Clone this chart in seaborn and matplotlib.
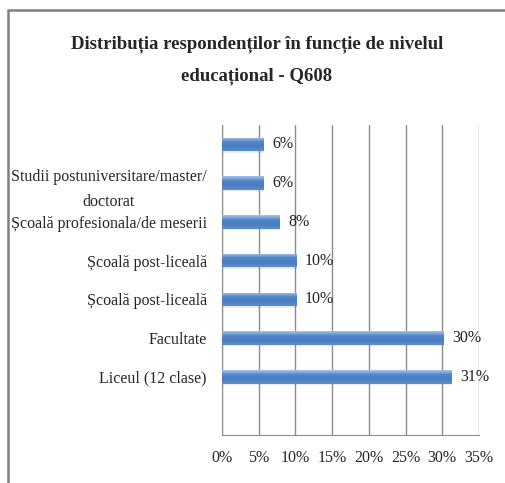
import numpy as np
import pandas as pd
import matplotlib
matplotlib.use('Agg')
import matplotlib.pyplot as plt
import seaborn as sns
from matplotlib.colors import LinearSegmentedColormap
from matplotlib.patches import Rectangle

# Data (top to bottom)
labels = ['', 'Studii postuniversitare/master/\ndoctorat', 'Școală profesionala/de meserii',
          'Școală post-liceală', 'Școală post-liceală', 'Facultate', 'Liceul (12 clase)']
values = [5.6, 5.6, 7.8, 10.1, 10.1, 30.1, 31.2]
value_labels = ['6%', '6%', '8%', '10%', '10%', '30%', '31%']
xticks = [0, 5, 10, 15, 20, 25, 30, 35]

df = pd.DataFrame({'pos': [f'c{i}' for i in range(len(values))], 'value': values})

sns.set_style('white')
plt.rcParams['font.family'] = ['Liberation Serif', 'DejaVu Serif']

fig = plt.figure(figsize=(5.06, 4.83), dpi=100)
ax = fig.add_axes([222 / 506, 1 - 435 / 483, 257 / 506, 310 / 483])

sns.barplot(data=df, x='value', y='pos', orient='h', color='#4F81BD', width=0.35, ax=ax, zorder=3)

# gradient fill like the office chart style
grad = LinearSegmentedColormap.from_list('bar', ['#A9C4EB', '#5286C6', '#4A7DC0', '#5E8DCB'])
gimg = np.linspace(0, 1, 64).reshape(-1, 1)
for p in ax.patches:
    x0, y0 = p.get_x(), p.get_y()
    w, h = p.get_width(), p.get_height()
    p.set_facecolor('none')
    p.set_edgecolor('none')
    im = ax.imshow(gimg, cmap=grad, aspect='auto', extent=[x0, x0 + w, y0 + h, y0],
                   zorder=3, interpolation='bilinear')
    im.set_clip_path(p)
    ax.add_patch(Rectangle((x0 + 0.15, y0 + 0.04), w, h, facecolor='#000000', alpha=0.08,
                           edgecolor='none', zorder=2))

for i, (v, t) in enumerate(zip(values, value_labels)):
    ax.text(v + 1.2, i, t, va='center', ha='left', fontsize=11.5, color='#222222')

ax.set_xlim(0, 35)
ax.set_ylim(7.5, -0.5)
ax.set_xticks(xticks)
ax.set_xticklabels([f'{t}%' for t in xticks], fontsize=11.5)
ax.set_yticks(range(len(labels)))
ax.set_yticklabels(labels, fontsize=11.5, linespacing=1.7)
ax.tick_params(axis='x', length=0, pad=11)
ax.tick_params(axis='y', length=0, pad=11)
ax.set_xlabel('')
ax.set_ylabel('')

ax.grid(axis='x', color='#8C8C8C', linewidth=1, zorder=0)
ax.set_axisbelow(True)
for s in ['top', 'right']:
    ax.spines[s].set_visible(False)
ax.spines['left'].set_color('#8C8C8C')
ax.spines['bottom'].set_color('#8C8C8C')

for t in ax.get_yticklabels():
    t.set_multialignment('center')

fig.text(257 / 506, 1 - 60 / 483, 'Distribuția respondenților în funcție de nivelul\neducațional - Q608',
         ha='center', va='center', fontsize=13.5, fontweight='bold', linespacing=2.1)

# chart frame
fig.patches.append(Rectangle((8 / 506, -0.1), 1.2, 1.1 - 10 / 483, transform=fig.transFigure,
                             facecolor='none', edgecolor='#808080', linewidth=1.8))

fig.savefig('out.png', dpi=100)
